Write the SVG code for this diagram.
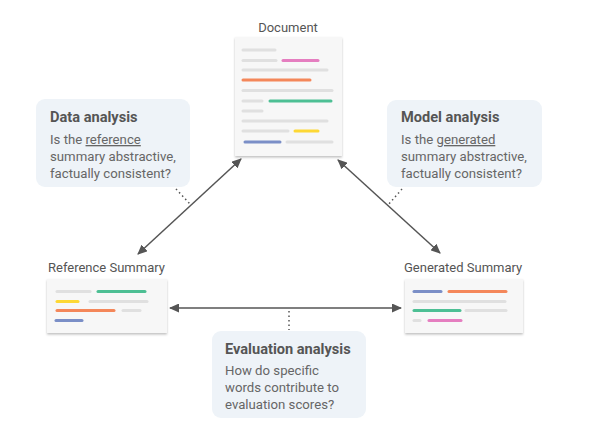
<svg xmlns="http://www.w3.org/2000/svg" width="591" height="427" viewBox="0 0 591 427">
<defs>
<style>
.lbl{font-family:Roboto,"Liberation Sans",sans-serif;font-size:13px;fill:#555}
.ttl{font-family:Roboto,"Liberation Sans",sans-serif;font-size:14.6px;font-weight:bold;fill:#555}
.txt{font-family:Roboto,"Liberation Sans",sans-serif;font-size:13.2px;fill:#666}
.box{fill:#eef3f8}
.card{fill:#f7f7f7;filter:url(#sh)}
.l{stroke-width:3;stroke-linecap:round;fill:none}
.g{stroke:#e0e0e0}.pk{stroke:#e57ec0}.or{stroke:#f4875a}.gr{stroke:#4dbf94}.ye{stroke:#fdd835}.bl{stroke:#7b8fc7}
.arr{stroke:#555;stroke-width:1.5;fill:none;marker-start:url(#ah);marker-end:url(#ah)}
.dot{stroke:#555;stroke-width:1.5;stroke-dasharray:1.5 3;fill:none}
</style>
<filter id="sh" x="-10%" y="-10%" width="120%" height="130%">
<feDropShadow dx="0" dy="1.5" stdDeviation="1.2" flood-color="#000" flood-opacity="0.25"/>
</filter>
<marker id="ah" viewBox="0 0 10 10" refX="9" refY="5" markerWidth="10" markerHeight="9" orient="auto-start-reverse" markerUnits="userSpaceOnUse" preserveAspectRatio="none">
<path d="M0,0 L10,5 L0,10 z" fill="#555"/>
</marker>
</defs>
<g id="connectors">
<line class="arr" x1="138" y1="254" x2="241" y2="159"/>
<line class="arr" x1="338" y1="160" x2="440" y2="253"/>
<line class="arr" x1="170" y1="308" x2="401" y2="308"/>
<line class="dot" x1="176" y1="189" x2="190" y2="204"/>
<line class="dot" x1="402" y1="189" x2="388" y2="205"/>
<line class="dot" x1="289" y1="311" x2="289" y2="330"/>
</g>
<g id="document">
<text class="lbl" x="288" y="32" text-anchor="middle">Document</text>
<rect class="card" x="235" y="37" width="107" height="119"/>
<line class="l g" x1="243" y1="50" x2="275" y2="50"/>
<line class="l g" x1="243" y1="60.5" x2="276" y2="60.5"/>
<line class="l pk" x1="283" y1="60.5" x2="318" y2="60.5"/>
<line class="l g" x1="243" y1="70" x2="327" y2="70"/>
<line class="l or" x1="243" y1="80" x2="310" y2="80"/>
<line class="l g" x1="243" y1="90.5" x2="332" y2="90.5"/>
<line class="l g" x1="243" y1="101" x2="262" y2="101"/>
<line class="l gr" x1="270" y1="101" x2="331" y2="101"/>
<line class="l g" x1="243" y1="111" x2="262" y2="111"/>
<line class="l g" x1="243" y1="121" x2="327" y2="121"/>
<line class="l g" x1="243" y1="131" x2="288" y2="131"/>
<line class="l ye" x1="295" y1="131" x2="318" y2="131"/>
<line class="l bl" x1="245" y1="142" x2="280" y2="142"/>
<line class="l g" x1="287" y1="142" x2="332" y2="142"/>
</g>
<g id="data-analysis">
<rect class="box" x="36" y="99" width="154" height="88" rx="9"/>
<text class="ttl" x="50" y="122">Data analysis</text>
<text class="txt" x="50" y="144">Is the <tspan text-decoration="underline">reference</tspan></text>
<text class="txt" x="50" y="161">summary abstractive,</text>
<text class="txt" x="50" y="178">factually consistent?</text>
</g>
<g id="model-analysis">
<rect class="box" x="387" y="100" width="155" height="87" rx="9"/>
<text class="ttl" x="401" y="122">Model analysis</text>
<text class="txt" x="401" y="144">Is the <tspan text-decoration="underline">generated</tspan></text>
<text class="txt" x="401" y="161">summary abstractive,</text>
<text class="txt" x="401" y="178">factually consistent?</text>
</g>
<g id="reference-summary">
<text class="lbl" x="48" y="272">Reference Summary</text>
<rect class="card" x="47" y="279" width="120" height="54"/>
<line class="l g" x1="57" y1="291.5" x2="90" y2="291.5"/>
<line class="l gr" x1="98" y1="291.5" x2="145" y2="291.5"/>
<line class="l ye" x1="57" y1="301.5" x2="78" y2="301.5"/>
<line class="l g" x1="90" y1="301.5" x2="147" y2="301.5"/>
<line class="l or" x1="57" y1="310.5" x2="114" y2="310.5"/>
<line class="l g" x1="123" y1="310.5" x2="140" y2="310.5"/>
<line class="l bl" x1="56" y1="320.5" x2="82" y2="320.5"/>
</g>
<g id="generated-summary">
<text class="lbl" x="404" y="272">Generated Summary</text>
<rect class="card" x="405" y="279" width="118" height="54"/>
<line class="l bl" x1="414" y1="291.5" x2="441" y2="291.5"/>
<line class="l or" x1="449" y1="291.5" x2="506" y2="291.5"/>
<line class="l g" x1="414" y1="301.5" x2="505" y2="301.5"/>
<line class="l gr" x1="414" y1="310.5" x2="460" y2="310.5"/>
<line class="l g" x1="466" y1="310.5" x2="506" y2="310.5"/>
<line class="l g" x1="414" y1="320.5" x2="420" y2="320.5"/>
<line class="l pk" x1="429" y1="320.5" x2="461" y2="320.5"/>
</g>
<g id="evaluation-analysis">
<rect class="box" x="212" y="331" width="154" height="87" rx="9"/>
<text class="ttl" x="225" y="354">Evaluation analysis</text>
<text class="txt" x="225" y="375">How do specific</text>
<text class="txt" x="225" y="392">words contribute to</text>
<text class="txt" x="225" y="409">evaluation scores?</text>
</g>
</svg>
